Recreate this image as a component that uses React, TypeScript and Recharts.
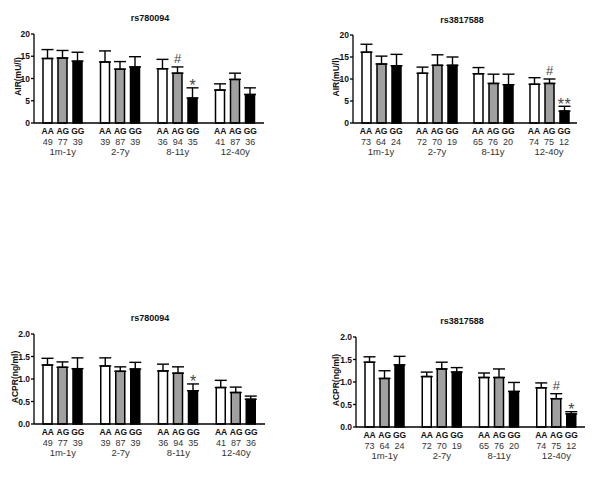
import React from 'react';
import { BarChart, Bar, XAxis, YAxis, ErrorBar, LabelList } from 'recharts';

const groups = ['1m-1y', '2-7y', '8-11y', '12-40y'];
const genotypes = ['AA', 'AG', 'GG'];

// sample sizes
const nRs780094AA = [49, 39, 36, 41];
const nRs780094AG = [77, 87, 94, 87];
const nRs780094GG = [39, 39, 35, 36];
const nRs3817588AA = [73, 72, 65, 74];
const nRs3817588AG = [64, 70, 76, 75];
const nRs3817588GG = [24, 19, 20, 12];

// AIR rs780094
const airA_AA = [14.5, 13.7, 12.2, 7.4];
const airA_AAe = [2.0, 2.5, 2.1, 1.4];
const airA_AG = [14.6, 12.1, 11.2, 9.8];
const airA_AGe = [1.7, 1.7, 1.4, 1.4];
const airA_GG = [13.9, 12.6, 5.6, 6.4];
const airA_GGe = [2.0, 2.3, 2.3, 1.5];
const airA_AGsig = ['', '', '#', ''];
const airA_GGsig = ['', '', '*', ''];

// AIR rs3817588
const airB_AA = [16.1, 11.3, 11.2, 8.8];
const airB_AAe = [1.8, 1.4, 1.4, 1.5];
const airB_AG = [13.4, 13.1, 9.0, 9.0];
const airB_AGe = [1.8, 2.4, 2.1, 1.0];
const airB_GG = [13.0, 13.1, 8.7, 2.7];
const airB_GGe = [2.6, 1.9, 2.4, 1.1];
const airB_AGsig = ['', '', '', '#'];
const airB_GGsig = ['', '', '', '**'];

// ACPR rs780094
const acprA_AA = [1.31, 1.29, 1.18, 0.81];
const acprA_AAe = [0.15, 0.18, 0.15, 0.16];
const acprA_AG = [1.26, 1.17, 1.13, 0.70];
const acprA_AGe = [0.12, 0.10, 0.14, 0.12];
const acprA_GG = [1.23, 1.22, 0.74, 0.55];
const acprA_GGe = [0.24, 0.15, 0.15, 0.07];
const acprA_AGsig = ['', '', '', ''];
const acprA_GGsig = ['', '', '*', ''];

// ACPR rs3817588
const acprB_AA = [1.44, 1.12, 1.10, 0.87];
const acprB_AAe = [0.12, 0.10, 0.10, 0.11];
const acprB_AG = [1.08, 1.29, 1.10, 0.63];
const acprB_AGe = [0.17, 0.15, 0.19, 0.11];
const acprB_GG = [1.38, 1.22, 0.79, 0.29];
const acprB_GGe = [0.19, 0.10, 0.20, 0.05];
const acprB_AGsig = ['', '', '', '#'];
const acprB_GGsig = ['', '', '', '*'];

const airTicks = [0, 5, 10, 15, 20];
const acprTicks = [0, 0.5, 1.0, 1.5, 2.0];

const FONT = '"Liberation Sans", Arial, Helvetica, sans-serif';

function build(aa: number[], aae: number[], ag: number[], age: number[], gg: number[], gge: number[]) {
  return groups.map((g, i) => ({
    group: g,
    AA: aa[i], AAe: [0, aae[i]],
    AG: ag[i], AGe: [0, age[i]],
    GG: gg[i], GGe: [0, gge[i]],
  }));
}

const sigLabel = (vals: number[], errs: number[], marks: string[]) => (p: any) => {
  const i = p.index;
  if (i === undefined || !marks[i]) return null;
  const vb = p.viewBox ?? p;
  const x = vb.x ?? p.x;
  const y = vb.y ?? p.y;
  const w = vb.width ?? p.width;
  const h = vb.height ?? p.height;
  const pxPerUnit = h / vals[i];
  const errTop = y - errs[i] * pxPerUnit;
  const mark = marks[i];
  const isHash = mark === '#';
  return (
    <text
      x={x + w / 2}
      y={isHash ? errTop - 4 : errTop + 3.5}
      textAnchor="middle"
      fontSize={isHash ? 13 : 16}
      letterSpacing={mark.length > 1 ? 0.5 : 0}
      fill="#444"
      fontFamily={FONT}
    >
      {mark}
    </text>
  );
};

const makeTick = (nAA: number[], nAG: number[], nGG: number[]) => (p: any) => {
  const { x, y, payload } = p;
  const i = payload.index;
  const counts = [nAA[i], nAG[i], nGG[i]];
  return (
    <g fontFamily={FONT}>
      {genotypes.map((g, k) => (
        <text key={'g' + k} x={x + (k - 1) * 15} y={y + 11} textAnchor="middle" fontSize={8.5} fontWeight="bold" fill="#111">
          {g}
        </text>
      ))}
      {counts.map((c, k) => (
        <text key={'c' + k} x={x + (k - 1) * 15} y={y + 21.5} textAnchor="middle" fontSize={9} fill="#333">
          {c}
        </text>
      ))}
      <text x={x} y={y + 32} textAnchor="middle" fontSize={9.5} fill="#333">
        {payload.value}
      </text>
    </g>
  );
};

const yLabel = (text: string, offset: number) => (p: any) => {
  const vb = p.viewBox;
  const cx = vb.x + vb.width - offset;
  const cy = vb.y + vb.height / 2 - 2;
  return (
    <text
      x={cx}
      y={cy}
      transform={`rotate(-90 ${cx} ${cy})`}
      textAnchor="middle"
      dominantBaseline="central"
      fontSize={8.5}
      fontWeight="bold"
      fill="#111"
      fontFamily={FONT}
    >
      {text}
    </text>
  );
};

type PanelProps = {
  left: number; top: number; width: number; height: number;
  margin: { top: number; right: number; bottom: number; left: number };
  xHeight: number;
  data: any[];
  domain: [number, number];
  ticks: number[];
  fmt: (v: number) => string;
  label: string; labelOffset: number;
  title: string; titleX: number; titleY: number;
  nAA: number[]; nAG: number[]; nGG: number[];
  vals: number[][]; errs: number[][]; sigAG: string[]; sigGG: string[];
};

function Panel(pp: PanelProps) {
  const stroke = { stroke: '#000', strokeWidth: 1.5 };
  return (
    <>
      <div
        style={{
          position: 'absolute', left: pp.titleX - 60, top: pp.titleY - 6, width: 120, textAlign: 'center',
          fontFamily: FONT, fontSize: 9, fontWeight: 'bold', lineHeight: '12px', color: '#111',
        }}
      >
        {pp.title}
      </div>
      <div style={{ position: 'absolute', left: pp.left, top: pp.top }}>
        <BarChart width={pp.width} height={pp.height} data={pp.data} margin={pp.margin} barSize={9} barGap={6}>
          <XAxis
            dataKey="group"
            height={pp.xHeight}
            axisLine={{ stroke: '#000', strokeWidth: 1.3 }}
            tickLine={false}
            tickSize={0}
            tickMargin={0}
            interval={0}
            tick={makeTick(pp.nAA, pp.nAG, pp.nGG)}
          />
          <YAxis
            width={26}
            domain={pp.domain}
            ticks={pp.ticks}
            tickFormatter={pp.fmt}
            axisLine={{ stroke: '#000', strokeWidth: 1.3 }}
            tickLine={{ stroke: '#000', strokeWidth: 1.3 }}
            tickSize={3}
            tickMargin={1}
            interval={0}
            tick={{ fontSize: 8.5, fontWeight: 'bold', fill: '#111', fontFamily: FONT }}
            label={{ content: yLabel(pp.label, pp.labelOffset) } as any}
          />
          <Bar dataKey="AA" fill="#ffffff" {...stroke} isAnimationActive={false}>
            <ErrorBar dataKey="AAe" direction="y" width={6} stroke="#000" strokeWidth={1.4} />
          </Bar>
          <Bar dataKey="AG" fill="#a0a0a0" {...stroke} isAnimationActive={false}>
            <ErrorBar dataKey="AGe" direction="y" width={6} stroke="#000" strokeWidth={1.4} />
            <LabelList dataKey="AG" content={sigLabel(pp.vals[1], pp.errs[1], pp.sigAG)} />
          </Bar>
          <Bar dataKey="GG" fill="#000000" {...stroke} isAnimationActive={false}>
            <ErrorBar dataKey="GGe" direction="y" width={6} stroke="#000" strokeWidth={1.4} />
            <LabelList dataKey="GG" content={sigLabel(pp.vals[2], pp.errs[2], pp.sigGG)} />
          </Bar>
        </BarChart>
      </div>
    </>
  );
}

const f0 = (v: number) => String(v);
const f1 = (v: number) => v.toFixed(1);

export default function App() {
  return (
    <div style={{ position: 'absolute', left: 0, top: 0, width: 600, height: 481, background: '#fff', overflow: 'hidden' }}>
      <Panel
        left={0} top={0} width={300} height={160}
        margin={{ top: 34, right: 36, bottom: 0, left: 8 }} xHeight={37}
        data={build(airA_AA, airA_AAe, airA_AG, airA_AGe, airA_GG, airA_GGe)}
        domain={[0, 20]} ticks={airTicks} fmt={f0}
        label="AIR(mU/l)" labelOffset={16}
        title="rs780094" titleX={150} titleY={18}
        nAA={nRs780094AA} nAG={nRs780094AG} nGG={nRs780094GG}
        vals={[airA_AA, airA_AG, airA_GG]} errs={[airA_AAe, airA_AGe, airA_GGe]}
        sigAG={airA_AGsig} sigGG={airA_GGsig}
      />
      <Panel
        left={300} top={0} width={300} height={160}
        margin={{ top: 35, right: 23, bottom: 0, left: 27 }} xHeight={37}
        data={build(airB_AA, airB_AAe, airB_AG, airB_AGe, airB_GG, airB_GGe)}
        domain={[0, 20]} ticks={airTicks} fmt={f0}
        label="AIR(mU/l)" labelOffset={17}
        title="rs3817588" titleX={462} titleY={20}
        nAA={nRs3817588AA} nAG={nRs3817588AG} nGG={nRs3817588GG}
        vals={[airB_AA, airB_AG, airB_GG]} errs={[airB_AAe, airB_AGe, airB_GGe]}
        sigAG={airB_AGsig} sigGG={airB_GGsig}
      />
      <Panel
        left={0} top={300} width={300} height={170}
        margin={{ top: 34, right: 35, bottom: 0, left: 8 }} xHeight={46}
        data={build(acprA_AA, acprA_AAe, acprA_AG, acprA_AGe, acprA_GG, acprA_GGe)}
        domain={[0, 2]} ticks={acprTicks} fmt={f1}
        label="ACPR(ng/ml)" labelOffset={19}
        title="rs780094" titleX={150} titleY={318}
        nAA={nRs780094AA} nAG={nRs780094AG} nGG={nRs780094GG}
        vals={[acprA_AA, acprA_AG, acprA_GG]} errs={[acprA_AAe, acprA_AGe, acprA_GGe]}
        sigAG={acprA_AGsig} sigGG={acprA_GGsig}
      />
      <Panel
        left={300} top={300} width={300} height={170}
        margin={{ top: 37, right: 15, bottom: 0, left: 30 }} xHeight={43}
        data={build(acprB_AA, acprB_AAe, acprB_AG, acprB_AGe, acprB_GG, acprB_GGe)}
        domain={[0, 2]} ticks={acprTicks} fmt={f1}
        label="ACPR(ng/ml)" labelOffset={20}
        title="rs3817588" titleX={462} titleY={321}
        nAA={nRs3817588AA} nAG={nRs3817588AG} nGG={nRs3817588GG}
        vals={[acprB_AA, acprB_AG, acprB_GG]} errs={[acprB_AAe, acprB_AGe, acprB_GGe]}
        sigAG={acprB_AGsig} sigGG={acprB_GGsig}
      />
    </div>
  );
}
